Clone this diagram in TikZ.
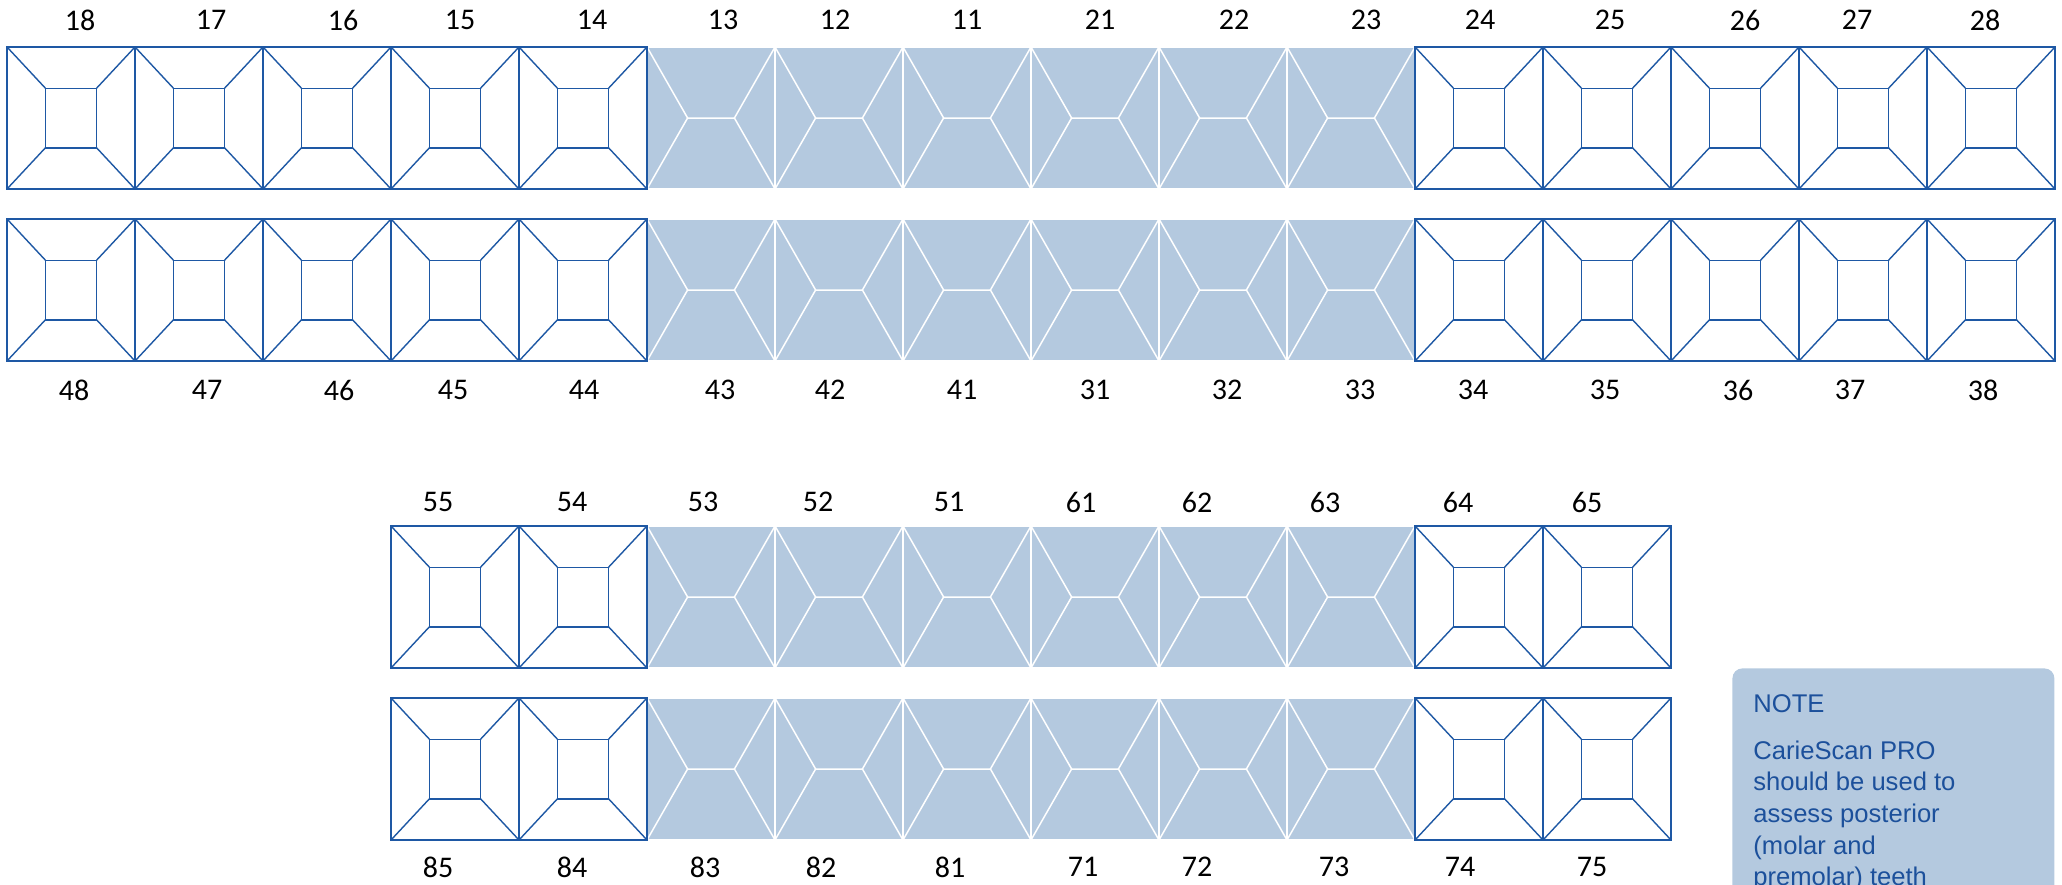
\documentclass[tikz,border=0pt]{standalone}
\usepackage{fontspec}
\setmainfont{Carlito}
\newfontfamily\notefont{Liberation Sans}
\definecolor{toothblue}{RGB}{30,88,164}
\definecolor{frontfill}{RGB}{180,201,223}
\definecolor{notetext}{RGB}{28,80,155}

\begin{document}
\begin{tikzpicture}[x=0.5pt, y=-0.5pt,
  toothbox/.style={rectangle, inner sep=0pt, outer sep=0pt, minimum width=64pt, minimum height=71pt},
  backtooth/.style={toothbox, draw=toothblue, line width=1pt, fill=white,
    path picture={
      \coordinate (c) at (path picture bounding box.center);
      \draw[toothblue, line width=.7pt] ([shift={(-12.8pt,-14.9pt)}]c) rectangle ([shift={(12.8pt,14.9pt)}]c);
      \foreach \sx/\sy in {-1/-1,-1/1,1/-1,1/1}
        \draw[toothblue, line width=.7pt] ([shift={(\sx*32pt,\sy*35.5pt)}]c) -- ([shift={(\sx*12.8pt,\sy*14.9pt)}]c);
    }},
  fronttooth/.style={toothbox, draw=white, line width=.75pt, fill=frontfill,
    path picture={
      \coordinate (c) at (path picture bounding box.center);
      \draw[white, line width=.75pt]
        ([shift={(-32pt,35.5pt)}]c) -- ([shift={(-11.7pt,0pt)}]c) -- ([shift={(-32pt,-35.5pt)}]c)
        ([shift={(-11.7pt,0pt)}]c) -- ([shift={(11.7pt,0pt)}]c)
        ([shift={(32pt,35.5pt)}]c) -- ([shift={(11.7pt,0pt)}]c) -- ([shift={(32pt,-35.5pt)}]c);
    }},
  num/.style={font=\fontsize{15}{18}\selectfont, inner sep=0pt},
  notebox/.style={fill=frontfill, rounded corners=5pt, minimum width=161pt, minimum height=150pt, anchor=north west},
  notetxt/.style={font=\notefont\fontsize{12.8}{15.8}\selectfont, text=notetext, anchor=base west, inner sep=0pt}
]
\useasboundingbox (0,0) rectangle (2062,884);

% permanent teeth
\foreach \n/\i in {13/5,12/6,11/7,21/8,22/9,23/10} {
  \node[fronttooth] (t\n) at (71+128*\i,118) {};
}
\foreach \n/\i in {43/5,42/6,41/7,31/8,32/9,33/10} {
  \node[fronttooth] (t\n) at (71+128*\i,290) {};
}
\foreach \n/\i in {18/0,17/1,16/2,15/3,14/4,24/11,25/12,26/13,27/14,28/15} {
  \node[backtooth] (t\n) at (71+128*\i,118) {};
}
\foreach \n/\i in {48/0,47/1,46/2,45/3,44/4,34/11,35/12,36/13,37/14,38/15} {
  \node[backtooth] (t\n) at (71+128*\i,290) {};
}

% primary teeth
\foreach \n/\i in {53/5,52/6,51/7,61/8,62/9,63/10} {
  \node[fronttooth] (t\n) at (71+128*\i,597) {};
}
\foreach \n/\i in {83/5,82/6,81/7,71/8,72/9,73/10} {
  \node[fronttooth] (t\n) at (71+128*\i,769) {};
}
\foreach \n/\i in {55/3,54/4,64/11,65/12} {
  \node[backtooth] (t\n) at (71+128*\i,597) {};
}
\foreach \n/\i in {85/3,84/4,74/11,75/12} {
  \node[backtooth] (t\n) at (71+128*\i,769) {};
}

% tooth numbers
\foreach \n/\x in {18/80,17/211,16/343,15/460,14/592,13/723,12/835,11/967,
                   21/1100,22/1234,23/1366,24/1480,25/1610,26/1745,27/1857,28/1985} {
  \node[num] (n\n) at (\x,20) {\n};
}
\foreach \n/\x in {48/74,47/207,46/339,45/453,44/584,43/720,42/830,41/962,
                   31/1095,32/1227,33/1360,34/1473,35/1605,36/1738,37/1850,38/1983} {
  \node[num] (n\n) at (\x,390) {\n};
}
\foreach \n/\x in {55/438,54/572,53/703,52/818,51/949,61/1081,62/1197,63/1325,64/1458,65/1587} {
  \node[num] (n\n) at (\x,502) {\n};
}
\foreach \n/\x in {85/438,84/572,83/705,82/821,81/950,71/1083,72/1197,73/1334,74/1460,75/1592} {
  \node[num] (n\n) at (\x,867) {\n};
}

% note
\node[notebox] (note) at (1732,668) {};
\node[notetxt] (notehead) at (1753,712) {NOTE};
\foreach \t [count=\k from 0] in {{CarieScan PRO},{should be used to},{assess posterior},{(molar and},{premolar) teeth}} {
  \node[notetxt] (note\k) at (1753,759+31.7*\k) {\t};
}
\end{tikzpicture}
\end{document}
